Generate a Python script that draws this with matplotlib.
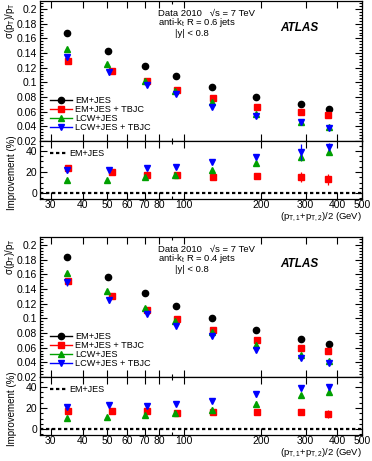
import numpy as np
import matplotlib
matplotlib.use('Agg')
import matplotlib.pyplot as plt
from matplotlib.lines import Line2D
from matplotlib.ticker import MultipleLocator, FixedLocator, NullFormatter

plt.rcParams['font.family'] = ['Liberation Sans', 'DejaVu Sans']
plt.rcParams['mathtext.fontset'] = 'custom'
plt.rcParams['mathtext.rm'] = 'Liberation Sans'
plt.rcParams['mathtext.it'] = 'Liberation Sans:italic'

# pT bins (GeV), per series
x_em = [34.7, 50.2, 70.2, 93.0, 129.0, 192.0, 288.0, 371.0]
x_tbjc = [34.9, 52.3, 71.3, 93.6, 130.0, 193.0, 289.0, 369.0]
x_lcw = [34.7, 49.9, 70.2, 92.4, 129.0, 192.0, 287.0, 372.0]
x_lcwtbjc = [34.8, 50.8, 71.3, 93.0, 129.0, 192.0, 289.0, 372.0]

# R = 0.6 resolution
r06_em = [0.168, 0.143, 0.1224, 0.108, 0.094, 0.0806, 0.0706, 0.0636]
r06_tbjc = [0.129, 0.1155, 0.1014, 0.089, 0.079, 0.0668, 0.060, 0.0555]
r06_lcw = [0.146, 0.1255, 0.102, 0.088, 0.0732, 0.0575, 0.0466, 0.039]
r06_lcwtbjc = [0.134, 0.1137, 0.096, 0.0836, 0.0668, 0.0547, 0.0453, 0.0378]
r06_lcwtbjc_err = [0.003, 0.003, 0.002, 0.002, 0.002, 0.002, 0.004, 0.002]

# R = 0.6 improvement (%)
i06_tbjc = [23.7, 19.7, 16.9, 16.9, 15.4, 16.6, 15.1, 12.9]
i06_tbjc_err = [2.0, 1.5, 1.2, 1.2, 1.2, 1.5, 5.0, 5.0]
i06_lcw = [12.6, 12.0, 15.4, 17.5, 22.2, 28.3, 33.8, 38.8]
i06_lcw_err = [1.5, 1.5, 1.2, 1.2, 1.5, 1.5, 3.0, 3.0]
i06_lcwtbjc = [21.5, 22.2, 23.4, 25.2, 29.5, 34.5, 39.0, 43.7]
i06_lcwtbjc_err = [2.5, 1.5, 1.2, 1.2, 1.5, 2.0, 8.0, 4.0]

# R = 0.4 resolution
r04_em = [0.1833, 0.157, 0.134, 0.1163, 0.100, 0.0841, 0.0723, 0.0647]
r04_tbjc = [0.1516, 0.130, 0.1114, 0.0986, 0.0837, 0.070, 0.060, 0.0549]
r04_lcw = [0.162, 0.137, 0.114, 0.097, 0.0815, 0.0633, 0.0495, 0.042]
r04_lcwtbjc = [0.1493, 0.1244, 0.1063, 0.0896, 0.0756, 0.0572, 0.046, 0.039]
r04_lcwtbjc_err = [0.005, 0.003, 0.002, 0.002, 0.002, 0.002, 0.003, 0.002]

# R = 0.4 improvement (%)
i04_tbjc = [17.3, 17.3, 17.0, 15.7, 16.4, 16.4, 16.4, 14.2]
i04_tbjc_err = [2.5, 1.5, 1.2, 1.2, 1.2, 1.5, 1.5, 4.0]
i04_lcw = [10.7, 11.7, 13.2, 15.7, 18.0, 24.0, 32.2, 35.4]
i04_lcw_err = [2.0, 1.5, 2.0, 1.5, 3.0, 3.0, 2.0, 3.0]
i04_lcwtbjc = [21.1, 22.7, 21.7, 24.0, 26.5, 33.1, 39.1, 40.0]
i04_lcwtbjc_err = [2.0, 1.5, 1.5, 1.5, 1.5, 2.5, 2.5, 2.5]

labels = ['EM+JES', 'EM+JES + TBJC', 'LCW+JES', 'LCW+JES + TBJC']
colors = ['black', '#ff0000', '#00a000', '#0000ff']
markers = ['o', 's', '^', 'v']
msizes = [4.5, 4.5, 4.5, 4.5]
xticks = [30, 40, 50, 60, 70, 80, 100, 200, 300, 400, 500]
xminor = [90]

fig = plt.figure(figsize=(3.72, 4.61), dpi=100)

L, W = 40 / 372, 322 / 372
H_main, H_rat = 140 / 461, 58 / 461


def style_axes(ax, show_xlabels):
    ax.set_xscale('log')
    ax.set_xlim(27.2, 500)
    ax.xaxis.set_major_locator(FixedLocator(xticks))
    ax.xaxis.set_minor_locator(FixedLocator(xminor))
    if show_xlabels:
        ax.set_xticklabels([str(t) for t in xticks])
    else:
        ax.xaxis.set_major_formatter(NullFormatter())
    ax.xaxis.set_minor_formatter(NullFormatter())
    ax.tick_params(which='both', direction='in', top=True, right=True, labelsize=7.5, width=0.8, pad=2)
    ax.tick_params(axis='x', pad=1)
    ax.tick_params(which='major', length=5)
    ax.tick_params(which='minor', length=2.5)
    for s in ax.spines.values():
        s.set_linewidth(0.9)


def panel(top_px, res, res_err, imp, imp_err, radius):
    ax = fig.add_axes([L, 1 - (top_px + 140) / 461, W, H_main])
    axr = fig.add_axes([L, 1 - (top_px + 198) / 461, W, H_rat])
    xs = [x_em, x_tbjc, x_lcw, x_lcwtbjc]
    for i in range(4):
        err = res_err if i == 3 else None
        ax.errorbar(xs[i], res[i], yerr=err, fmt=markers[i], color=colors[i], ms=msizes[i],
                    elinewidth=0.9, capsize=0, zorder=3 + (i == 3))
    ax.set_ylim(0.02, 0.211)
    ax.yaxis.set_minor_locator(MultipleLocator(0.004))
    ax.set_yticks([0.02, 0.04, 0.06, 0.08, 0.1, 0.12, 0.14, 0.16, 0.18, 0.2])
    ax.set_yticklabels(['0.02', '0.04', '0.06', '0.08', '0.1', '0.12', '0.14', '0.16', '0.18', '0.2'])
    style_axes(ax, False)
    ax.set_ylabel('σ(p$_\\mathrm{T}$)/p$_\\mathrm{T}$', fontsize=7, labelpad=2)
    ax.yaxis.set_label_coords(-0.07, 0.86)

    handles = [Line2D([0], [0], color=colors[i], marker=markers[i], ms=4.5, lw=1) for i in range(4)]
    ax.legend(handles, labels, loc='lower left', bbox_to_anchor=(0.03, 0.065), frameon=False,
              fontsize=6.6, handlelength=2.4, handletextpad=0.4, labelspacing=0.0,
              borderaxespad=0, borderpad=0)

    ax.text(0.366, 0.914, 'Data 2010   √s = 7 TeV', transform=ax.transAxes,
            fontsize=6.8, va='center', ha='left')
    ax.text(0.366, 0.843, 'anti-k$_\\mathrm{t}$ R = %s jets' % radius, transform=ax.transAxes,
            fontsize=6.8, va='center', ha='left')
    ax.text(0.419, 0.771, '|y| < 0.8', transform=ax.transAxes,
            fontsize=6.8, va='center', ha='left')
    ax.text(0.745, 0.807, 'ATLAS', transform=ax.transAxes, fontsize=8.5,
            fontweight='bold', fontstyle='italic', va='center', ha='left')

    axr.axhline(0, color='black', ls=(0, (1.5, 1.2)), lw=1.6, zorder=2)
    for i in range(1, 4):
        axr.errorbar(xs[i], imp[i - 1], yerr=imp_err[i - 1], fmt=markers[i], color=colors[i],
                     ms=msizes[i], elinewidth=0.9, capsize=0, zorder=3 + (i == 3))
    axr.set_ylim(-5.7, 49.5)
    axr.set_yticks([0, 20, 40])
    axr.yaxis.set_minor_locator(MultipleLocator(5))
    style_axes(axr, True)
    axr.set_ylabel('Improvement (%)', fontsize=7, labelpad=2)
    axr.yaxis.set_label_coords(-0.07, 0.45)
    axr.set_xlabel('(p$_\\mathrm{T,1}$+p$_\\mathrm{T,2}$)/2 (GeV)', fontsize=6.8, labelpad=1)
    axr.xaxis.set_label_coords(1.0, -0.205)
    axr.xaxis.label.set_horizontalalignment('right')
    axr.legend([Line2D([0], [0], color='black', ls=(0, (1.5, 1.2)), lw=1.6)], ['EM+JES'],
               loc='upper left', bbox_to_anchor=(0.03, 0.86), frameon=False, fontsize=6.5,
               handlelength=1.8, handletextpad=0.4, borderaxespad=0, borderpad=0)


panel(1, [r06_em, r06_tbjc, r06_lcw, r06_lcwtbjc], r06_lcwtbjc_err,
      [i06_tbjc, i06_lcw, i06_lcwtbjc], [i06_tbjc_err, i06_lcw_err, i06_lcwtbjc_err], '0.6')
panel(237, [r04_em, r04_tbjc, r04_lcw, r04_lcwtbjc], r04_lcwtbjc_err,
      [i04_tbjc, i04_lcw, i04_lcwtbjc], [i04_tbjc_err, i04_lcw_err, i04_lcwtbjc_err], '0.4')

fig.savefig('out.png', dpi=100)
